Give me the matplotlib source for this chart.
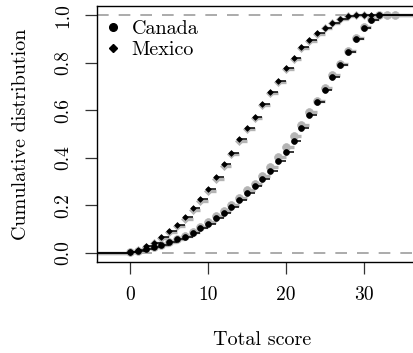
import matplotlib
matplotlib.use("Agg")
import matplotlib.pyplot as plt
from matplotlib.lines import Line2D
import numpy as np

plt.rcParams['font.family'] = ['cmr10', 'DejaVu Serif']
plt.rcParams['axes.formatter.use_mathtext'] = True
plt.rcParams['mathtext.fontset'] = 'cm'

# ---- data ----
canada_scores = list(range(0, 33))
canada_black = [0.003, 0.008, 0.016, 0.023, 0.030, 0.043, 0.055, 0.067, 0.082, 0.102,
                0.122, 0.146, 0.168, 0.192, 0.223, 0.253, 0.282, 0.311, 0.344, 0.387,
                0.425, 0.472, 0.525, 0.581, 0.633, 0.686, 0.741, 0.791, 0.847, 0.902,
                0.946, 0.980, 1.0]
canada_gray_scores = list(range(0, 35))
canada_gray = [0.003, 0.008, 0.017, 0.025, 0.033, 0.046, 0.058, 0.071, 0.087, 0.107,
               0.128, 0.152, 0.175, 0.199, 0.230, 0.262, 0.291, 0.322, 0.362, 0.402,
               0.445, 0.490, 0.538, 0.592, 0.640, 0.692, 0.748, 0.795, 0.850, 0.905,
               0.950, 0.985, 1.0, 1.0, 1.0]

mexico_scores = list(range(0, 32))
mexico_black = [0.004, 0.012, 0.026, 0.042, 0.064, 0.092, 0.118, 0.150, 0.187, 0.224,
                0.266, 0.320, 0.375, 0.421, 0.477, 0.526, 0.573, 0.626, 0.678, 0.725,
                0.777, 0.822, 0.868, 0.897, 0.925, 0.948, 0.970, 0.987, 0.997, 1.0,
                1.0, 1.0]
mexico_gray_scores = list(range(0, 31))
mexico_gray = [0.004, 0.011, 0.024, 0.040, 0.060, 0.087, 0.112, 0.143, 0.180, 0.216,
               0.258, 0.312, 0.367, 0.414, 0.470, 0.520, 0.568, 0.622, 0.672, 0.720,
               0.773, 0.818, 0.864, 0.894, 0.922, 0.946, 0.968, 0.986, 0.996, 1.0, 1.0]

x_ticks = [0, 10, 20, 30]
y_ticks = [0.0, 0.2, 0.4, 0.6, 0.8, 1.0]
legend_labels = ["Canada", "Mexico"]

XMIN, XMAX = -4.3, 38.3
STEP_RIGHT = 36.72

fig = plt.figure(figsize=(4.14, 3.53), dpi=100)
ax = fig.add_axes([97/414, 91/353, 331/414, 256/353])
ax.set_xlim(XMIN, XMAX)
ax.set_ylim(-0.04, 1.04)

lw_d = 1.4
for yv in (0.0, 1.0):
    ax.axhline(yv, color='#ababab', lw=lw_d, linestyle=(0, (8.4/lw_d, 7.2/lw_d)), zorder=1)

def ecdf(xs, ys, color, marker, ms, lw, z):
    xs = np.asarray(xs, float)
    ys = np.asarray(ys, float)
    right = np.append(xs[1:], STEP_RIGHT)
    ax.hlines(ys, xs, right, colors=color, lw=lw, zorder=z)
    ax.hlines([0.0], [XMIN], [xs[0]], colors=color, lw=lw, zorder=z)
    ax.plot(xs, ys, linestyle='none', marker=marker, ms=ms, color=color,
            mec=color, mew=0.5, zorder=z + 0.5)

GRAY = '#b4b4b4'
ecdf(canada_gray_scores, canada_gray, GRAY, 'o', 5.6, 2.4, 2)
ecdf(mexico_gray_scores, mexico_gray, GRAY, 'D', 4.2, 2.4, 2)
ecdf(canada_scores, canada_black, 'black', 'o', 4.2, 1.1, 4)
ecdf(mexico_scores, mexico_black, 'black', 'D', 2.9, 1.1, 4)

ax.set_xticks(x_ticks)
ax.set_yticks(y_ticks)
ax.set_xticklabels([str(v) for v in x_ticks])
ax.set_yticklabels([f"{v:.1f}" for v in y_ticks], rotation=90, va='center')
ax.tick_params(axis='both', direction='out', length=8.5, width=0.9, labelsize=14,
               color='#333333', pad=9)
ax.tick_params(axis='x', pad=9)
for s in ax.spines.values():
    s.set_linewidth(1.0)

ax.set_xlabel("Total score", fontsize=14.5, labelpad=19)
ax.set_ylabel("Cumulative distribution", fontsize=14.5, labelpad=18)

handles = [Line2D([], [], linestyle='none', marker='o', color='black', ms=5.5),
           Line2D([], [], linestyle='none', marker='D', color='black', ms=3.8)]
ax.legend(handles, legend_labels, loc='upper left', bbox_to_anchor=(-0.03, 1.0),
          frameon=False, fontsize=14.5, handletextpad=0.3, labelspacing=0.15,
          handlelength=1.2, borderaxespad=0.3)

fig.savefig("out.png", dpi=100)
